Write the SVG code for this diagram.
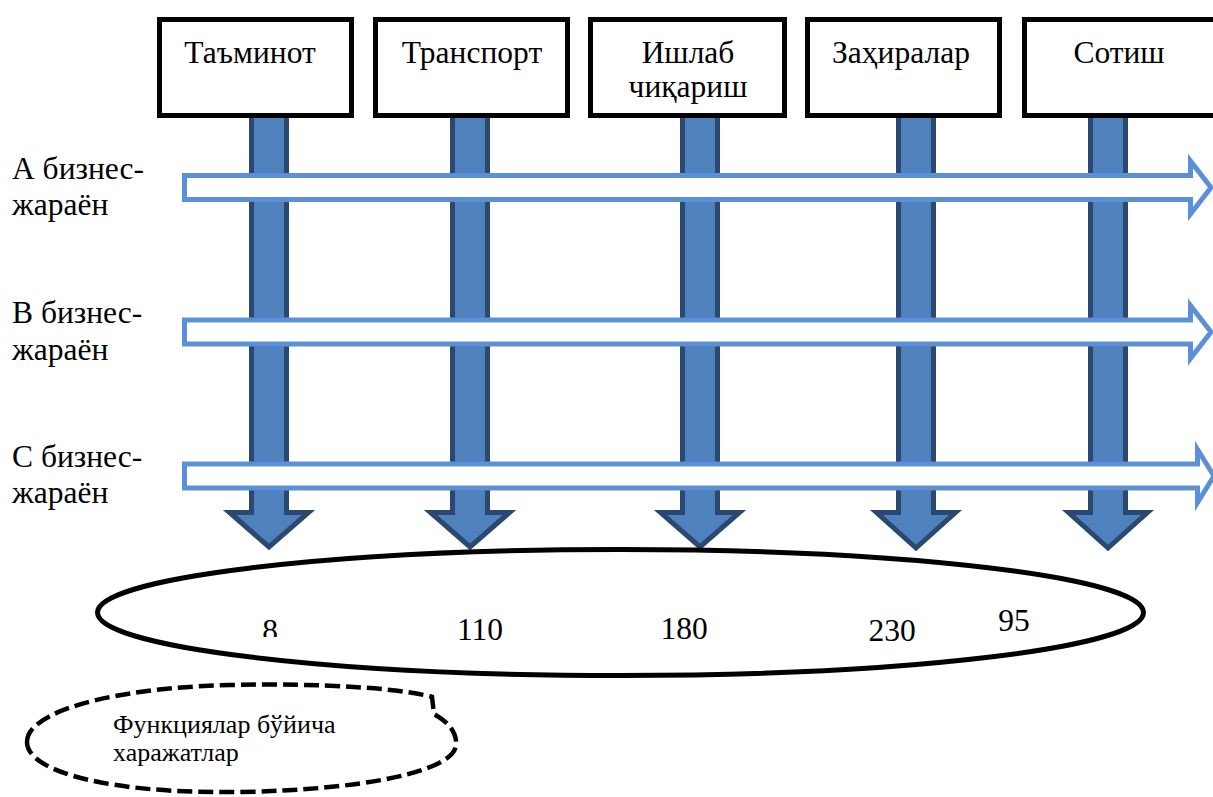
<svg xmlns="http://www.w3.org/2000/svg" width="1213" height="797" viewBox="0 0 1213 797">
<style>
.t{font-family:"Liberation Serif","Times New Roman",serif;font-size:31.5px;fill:#000}
.c{text-anchor:middle}
.box{fill:#fff;stroke:#000;stroke-width:5}
.va{fill:#4F81BD;stroke:#2A4870;stroke-width:5;stroke-linejoin:miter}
.ha{fill:#fff;stroke:#5B8FD8;stroke-width:5;stroke-linejoin:miter}
.small{font-family:"Liberation Serif","Times New Roman",serif;font-size:26px;fill:#000}
</style>
<defs>
<clipPath id="clip8"><rect x="250" y="600" width="40" height="37"/></clipPath>
</defs>
<rect width="1213" height="797" fill="#fff"/>
<g id="connectors">
  <g id="vertical-arrows">
    <polygon class="va" points="251.5,114 286.5,114 286.5,512.5 308.5,512.5 269,547 229.5,512.5 251.5,512.5"/>
    <polygon class="va" points="452.5,114 487.5,114 487.5,512.5 509.5,512.5 470,547 430.5,512.5 452.5,512.5"/>
    <polygon class="va" points="682.5,114 717.5,114 717.5,512.5 739.5,512.5 700,547 660.5,512.5 682.5,512.5"/>
    <polygon class="va" points="898.5,114 933.5,114 933.5,512.5 955.5,512.5 916,548 876.5,512.5 898.5,512.5"/>
    <polygon class="va" points="1090.5,114 1125.5,114 1125.5,512.5 1147.5,512.5 1108,548 1068.5,512.5 1090.5,512.5"/>
  </g>
  <g id="horizontal-arrows">
    <polygon class="ha" points="184.5,175.5 1190.5,175.5 1190.5,161 1211,187.5 1190.5,214 1190.5,199.5 184.5,199.5"/>
    <polygon class="ha" points="184.5,320 1190.5,320 1190.5,305.5 1211,332 1190.5,358.5 1190.5,344 184.5,344"/>
    <polygon class="ha" points="184.5,464 1197.5,464 1197.5,449.5 1214,476 1197.5,502.5 1197.5,488 184.5,488"/>
  </g>
</g>
<g id="box-supply"><rect class="box" x="159.5" y="19.5" width="192" height="96"/><text class="t c" x="250" y="63">Таъминот</text></g>
<g id="box-transport"><rect class="box" x="375.5" y="19.5" width="192" height="96"/><text class="t c" x="472" y="63">Транспорт</text></g>
<g id="box-production"><rect class="box" x="590.5" y="19.5" width="194" height="96"/><text class="t c" x="688" y="63">Ишлаб</text><text class="t c" x="688" y="97">чиқариш</text></g>
<g id="box-stocks"><rect class="box" x="807.5" y="19.5" width="192" height="96"/><text class="t c" x="901" y="63">Заҳиралар</text></g>
<g id="box-sales"><rect class="box" x="1024.5" y="19.5" width="192" height="96"/><text class="t c" x="1119" y="63">Сотиш</text></g>
<g id="label-a"><text class="t" x="12" y="179">А бизнес-</text><text class="t" x="12" y="215">жараён</text></g>
<g id="label-b"><text class="t" x="12" y="323">В бизнес-</text><text class="t" x="12" y="360">жараён</text></g>
<g id="label-c"><text class="t" x="12" y="467">С бизнес-</text><text class="t" x="12" y="503">жараён</text></g>
<g id="costs-ellipse">
  <ellipse cx="620.5" cy="612.5" rx="523" ry="63" fill="none" stroke="#000" stroke-width="5"/>
  <text class="t c" x="270" y="641" clip-path="url(#clip8)">8</text>
  <text class="t c" x="480" y="640">110</text>
  <text class="t c" x="684" y="639">180</text>
  <text class="t c" x="892" y="641">230</text>
  <text class="t c" x="1014" y="631">95</text>
</g>
<g id="function-costs">
  <path d="M 27,742 C 27,712 110,688 230,685 C 320,683 400,688 432,697 L 434,714 C 448,722 457,732 456,745 C 454,772 360,790 240,792 C 110,794 27,772 27,742 Z" fill="none" stroke="#000" stroke-width="4.5" stroke-dasharray="15 6"/>
  <text class="small" x="113" y="733">Функциялар бўйича</text>
  <text class="small" x="113" y="761">харажатлар</text>
</g>
</svg>
